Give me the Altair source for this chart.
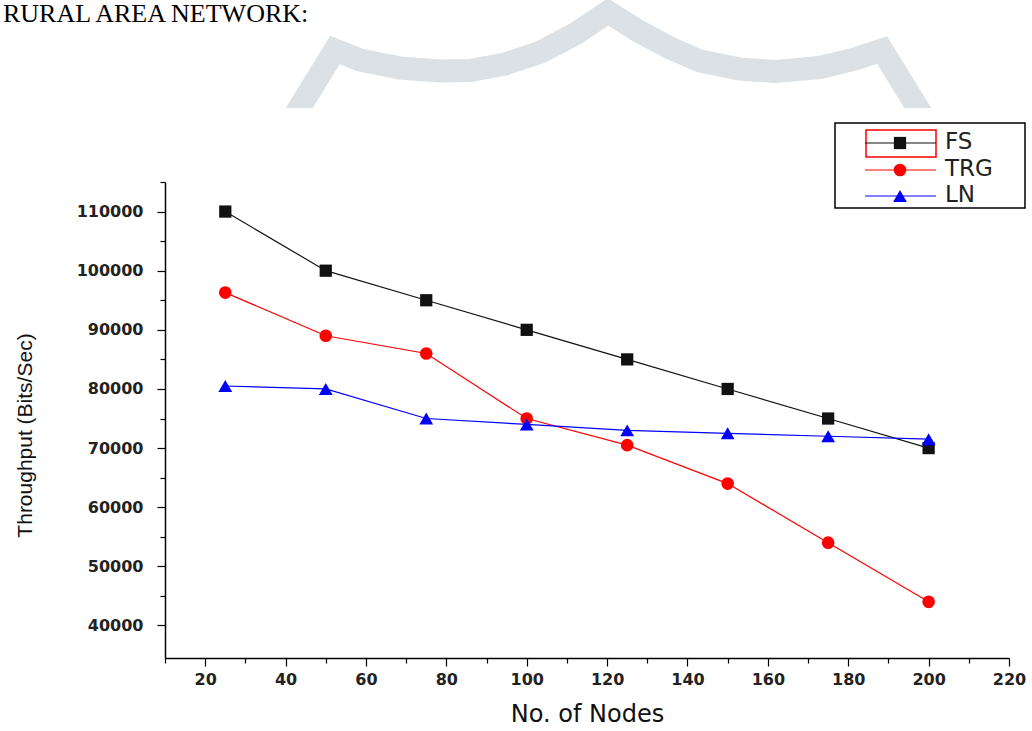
import altair as alt
import pandas as pd

# ---------------- data ----------------
nodes = [25, 50, 75, 100, 125, 150, 175, 200]
fs = [110000, 100000, 95000, 90000, 85000, 80000, 75000, 70000]
trg = [96300, 89000, 86000, 75000, 70500, 64000, 54000, 44000]
ln = [80500, 80000, 75000, 74000, 73000, 72500, 72000, 71500]

series_names = ["FS", "TRG", "LN"]
series_values = [fs, trg, ln]
series_colors = ["#111111", "#ff0000", "#0000ff"]
series_shapes = ["square", "circle", "triangle-up"]
series_sizes = [150, 160, 190]

x_ticks = list(range(10, 221, 10))
y_ticks = list(range(40000, 115001, 5000))

page_title = "RURAL AREA NETWORK:"
x_title = "No. of Nodes"
y_title = "Throughput (Bits/Sec)"

# decorative background watermark outline (page pixel coordinates)
wm_x = [293, 335, 360, 400, 440, 470, 505, 540, 575, 608, 640, 670, 700, 740, 775, 820, 855, 882, 924]
wm_y = [118, 50, 60, 68, 71, 70.5, 64, 52.5, 34, 12, 32, 48, 61, 69, 71.5, 67.5, 59, 50, 118]

# ---------------- layout ----------------
W, H = 844, 476
PAD = {"left": 165, "top": 182, "right": 23, "bottom": 73}

x_axis = alt.Axis(
    values=x_ticks,
    labelExpr="datum.value % 20 === 0 ? datum.label : ''",
    tickSize={"condition": {"test": "datum.value % 20 === 0", "value": 8}, "value": 5},
    title=x_title,
    titleFont="DejaVu Sans", titleFontSize=24, titleFontWeight="normal", titleColor="#111111",
    titleY=63, titleBaseline="alphabetic",
    labelFont="DejaVu Sans", labelFontSize=16, labelFontWeight="bold", labelColor="#222222",
    labelPadding=5, labelFlush=False, labelOverlap=False,
    domainColor="#000000", domainWidth=1.5, tickColor="#000000", tickWidth=1.2,
    grid=False, zindex=1,
)
y_axis = alt.Axis(
    values=y_ticks,
    labelExpr="datum.value % 10000 === 0 ? format(datum.value, 'd') : ''",
    tickSize={"condition": {"test": "datum.value % 10000 === 0", "value": 8}, "value": 5},
    title=y_title,
    titleFont="Liberation Sans", titleFontSize=21, titleFontWeight="normal", titleColor="#111111",
    titleAngle=270, titleX=-140, titleY=253, titleAlign="center", titleBaseline="middle",
    labelFont="DejaVu Sans", labelFontSize=16, labelFontWeight="bold", labelColor="#222222",
    labelPadding=14, labelFlush=False, labelOverlap=False,
    domainColor="#000000", domainWidth=1.5, tickColor="#000000", tickWidth=1.2,
    grid=False, zindex=1,
)

x_enc = alt.X("Nodes:Q", scale=alt.Scale(domain=[10, 220], nice=False, zero=False), axis=x_axis)
y_enc = alt.Y("Throughput:Q", scale=alt.Scale(domain=[34500, 115000], nice=False, zero=False), axis=y_axis)

one = pd.DataFrame({"d": [0]})

# watermark (own scales, identity-like mapping to pixels)
wm_df = pd.DataFrame({"wx": wm_x, "wy": wm_y})
watermark = alt.Chart(wm_df).mark_line(
    color="#dbe1e5", strokeWidth=23, strokeJoin="miter", strokeCap="butt"
).encode(
    x=alt.X("wx:Q", scale=alt.Scale(domain=[165, 1009], nice=False, zero=False), axis=None),
    y=alt.Y("wy:Q", scale=alt.Scale(domain=[182, 658], reverse=True, nice=False, zero=False), axis=None),
)

cover = alt.Chart(one).mark_rect(fill="white", stroke=None).encode(
    x=alt.value(-165), x2=alt.value(867), y=alt.value(108 - 182), y2=alt.value(125 - 182)
)

layers = [cover]
for name, vals, col, shp, sz in zip(series_names, series_values, series_colors, series_shapes, series_sizes):
    df = pd.DataFrame({"Nodes": nodes, "Throughput": vals})
    layers.append(alt.Chart(df).mark_line(color=col, strokeWidth=1.2).encode(x=x_enc, y=y_enc))
    layers.append(
        alt.Chart(df).mark_point(filled=True, color=col, shape=shp, size=sz, opacity=1).encode(x=x_enc, y=y_enc)
    )

# legend box
layers.append(
    alt.Chart(one).mark_rect(fill="white", stroke="#000000", strokeWidth=1.5).encode(
        x=alt.value(670), x2=alt.value(860), y=alt.value(-59), y2=alt.value(26)
    )
)
layers.append(
    alt.Chart(one).mark_rect(fillOpacity=0, stroke="#ff0000", strokeWidth=1.5).encode(
        x=alt.value(701), x2=alt.value(771), y=alt.value(-52), y2=alt.value(-25)
    )
)
legend_rows = [-39, -12, 14]
for name, col, shp, sz, ry in zip(series_names, series_colors, series_shapes, series_sizes, legend_rows):
    layers.append(
        alt.Chart(one).mark_rule(color=col, strokeWidth=1.2).encode(
            x=alt.value(700), x2=alt.value(771), y=alt.value(ry)
        )
    )
    layers.append(
        alt.Chart(one).mark_point(filled=True, color=col, shape=shp, size=sz, opacity=1).encode(
            x=alt.value(735), y=alt.value(ry)
        )
    )
    layers.append(
        alt.Chart(one).mark_text(
            align="left", baseline="middle", font="DejaVu Sans", fontSize=23, color="#222222"
        ).encode(x=alt.value(780), y=alt.value(ry - 1), text=alt.value(name))
    )

# page heading
layers.append(
    alt.Chart(one).mark_text(
        align="left", baseline="alphabetic", font="Liberation Serif", fontSize=26, color="#000000"
    ).encode(x=alt.value(-162), y=alt.value(22 - 182), text=alt.value(page_title))
)

inner = alt.layer(*layers)

chart = (
    alt.layer(watermark, inner)
    .resolve_scale(x="independent", y="independent")
    .properties(width=W, height=H, padding=PAD, autosize=alt.AutoSizeParams(type="none"), background="white")
    .configure_view(stroke=None)
)

chart.save("out.html", embed_options={"renderer": "svg", "actions": False})
